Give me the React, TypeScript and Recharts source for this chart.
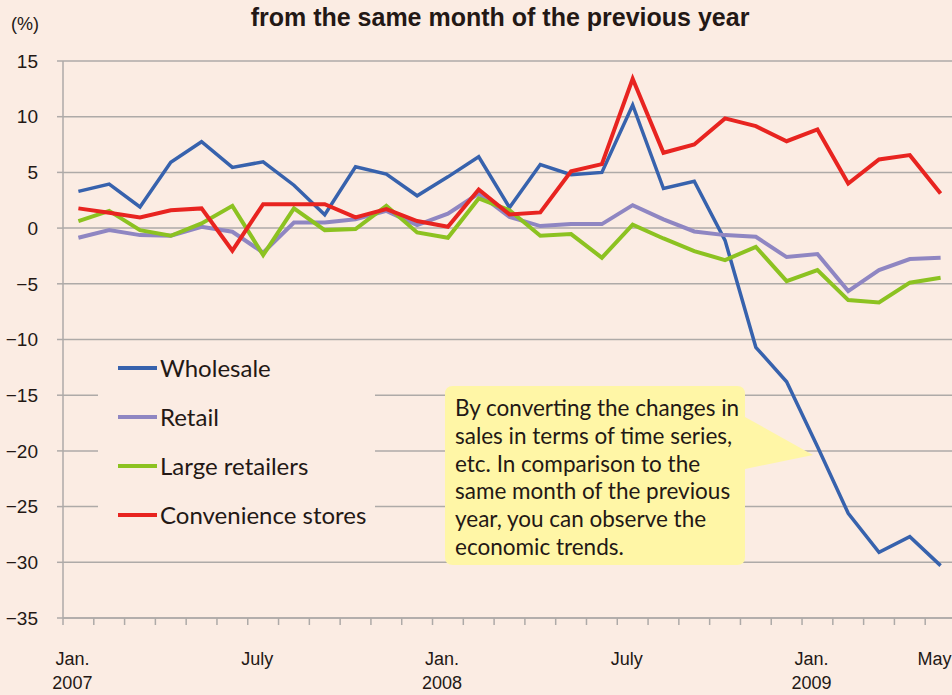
import { LineChart, Line, XAxis, YAxis, CartesianGrid, Legend } from 'recharts';

const months = [
  'Jan. 2007', 'Feb.', 'Mar.', 'Apr.', 'May', 'June', 'July', 'Aug.', 'Sep.', 'Oct.', 'Nov.', 'Dec.',
  'Jan. 2008', 'Feb.', 'Mar.', 'Apr.', 'May', 'June', 'July', 'Aug.', 'Sep.', 'Oct.', 'Nov.', 'Dec.',
  'Jan. 2009', 'Feb.', 'Mar.', 'Apr.', 'May',
];

const wholesale = [
  3.3, 3.95, 1.9, 5.9, 7.75, 5.45, 5.95, 3.85, 1.2, 5.5, 4.85, 2.9,
  4.6, 6.4, 1.85, 5.7, 4.8, 5.0, 11.05, 3.55, 4.2, -1.1, -10.7, -13.8,
  -19.6, -25.6, -29.1, -27.7, -30.3,
];
const retail = [
  -0.87, -0.18, -0.63, -0.69, 0.12, -0.33, -2.2, 0.5, 0.5, 0.8, 1.55, 0.27,
  1.3, 3.1, 1.0, 0.18, 0.36, 0.36, 2.06, 0.78, -0.3, -0.63, -0.78, -2.6,
  -2.33, -5.65, -3.77, -2.78, -2.66,
];
const largeRetailers = [
  0.63, 1.55, -0.18, -0.69, 0.42, 2.0, -2.42, 1.77, -0.18, -0.09, 2.0, -0.39,
  -0.87, 2.66, 1.6, -0.69, -0.54, -2.66, 0.3, -0.93, -2.07, -2.87, -1.68, -4.76,
  -3.77, -6.46, -6.67, -4.9, -4.46,
];
const convenience = [
  1.77, 1.37, 0.96, 1.6, 1.77, -2.03, 2.15, 2.15, 2.15, 0.96, 1.7, 0.63,
  0.12, 3.47, 1.23, 1.41, 5.1, 5.74, 13.4, 6.76, 7.5, 9.85, 9.15, 7.8,
  8.86, 4.0, 6.16, 6.55, 3.1,
];

const tickLabels: Record<number, string[]> = {
  0: ['Jan.', '2007'],
  6: ['July'],
  12: ['Jan.', '2008'],
  18: ['July'],
  24: ['Jan.', '2009'],
  28: ['May'],
};

const yTicks = [15, 10, 5, 0, -5, -10, -15, -20, -25, -30, -35];

const series = [
  { key: 'wholesale', name: 'Wholesale', color: '#3762ad', width: 3.5 },
  { key: 'retail', name: 'Retail', color: '#8f86c2', width: 4 },
  { key: 'largeRetailers', name: 'Large retailers', color: '#8cc221', width: 4 },
  { key: 'convenience', name: 'Convenience stores', color: '#e82420', width: 4 },
];

const calloutLines = [
  'By converting the changes in',
  'sales in terms of time series,',
  'etc. In comparison to the',
  'same month of the previous',
  'year, you can observe the',
  'economic trends.',
];

const data = months.map((m, i) => ({
  idx: i,
  month: m,
  wholesale: wholesale[i],
  retail: retail[i],
  largeRetailers: largeRetailers[i],
  convenience: convenience[i],
}));

const BG = '#fbece3';
const GRID = '#aeaaa8';
const CHART_W = 960;
const CHART_H = 695;
const MARGIN = { top: 61, right: 4, bottom: 0, left: 0 };
const Y_W = 63;
const X_H = 77;
const BAND = (CHART_W - MARGIN.left - MARGIN.right - Y_W) / months.length;
const AXIS_FONT = '"Liberation Sans", Arial, sans-serif';
const TEXT_FONT = 'Lato, "Noto Sans", sans-serif';

function MonthTick(props: any) {
  const { x, y, payload, index } = props;
  const lines = tickLabels[payload.value];
  return (
    <g>
      <line x1={x - BAND / 2} x2={x - BAND / 2} y1={y} y2={y + 7} stroke={GRID} strokeWidth={1.5} />
      {index === months.length - 1 && (
        <line x1={x + BAND / 2} x2={x + BAND / 2} y1={y} y2={y + 7} stroke={GRID} strokeWidth={1.5} />
      )}
      {lines &&
        lines.map((t, i) => (
          <text
            key={t}
            x={x - 6}
            y={y + 47 + i * 24}
            textAnchor="middle"
            fontSize={18}
            fontFamily={AXIS_FONT}
            fill="#231815"
          >
            {t}
          </text>
        ))}
    </g>
  );
}

function LegendBox() {
  return (
    <svg width={277} height={195} style={{ display: 'block', background: BG }}>
      {series.map((s, i) => (
        <g key={s.key}>
          <line x1={20} x2={59} y1={23 + i * 49} y2={23 + i * 49} stroke={s.color} strokeWidth={4} />
          <text x={62} y={32 + i * 49} fontSize={24} fontFamily={TEXT_FONT} fill="#231815">
            {s.name}
          </text>
        </g>
      ))}
    </svg>
  );
}

export default function App() {
  return (
    <div
      style={{
        position: 'absolute',
        left: 0,
        top: 0,
        width: 952,
        height: 695,
        overflow: 'hidden',
        background: BG,
      }}
    >
      <LineChart width={CHART_W} height={CHART_H} data={data} margin={MARGIN}>
        <CartesianGrid vertical={false} stroke={GRID} strokeWidth={1.5} />
        <XAxis
          dataKey="idx"
          type="number"
          domain={[-0.5, months.length - 0.5]}
          ticks={months.map((_, i) => i)}
          interval={0}
          height={X_H}
          tickLine={false}
          tickSize={0}
          tickMargin={0}
          axisLine={{ stroke: GRID, strokeWidth: 1.5 }}
          tick={<MonthTick />}
        />
        <YAxis
          domain={[-35, 15]}
          ticks={yTicks}
          interval={0}
          width={Y_W}
          tickSize={6}
          tickMargin={19}
          axisLine={{ stroke: GRID, strokeWidth: 1.5 }}
          tickLine={{ stroke: GRID, strokeWidth: 1.5 }}
          tick={{ fontSize: 19, fill: '#231815', fontFamily: AXIS_FONT }}
          tickFormatter={(v: number) => (v < 0 ? `\u2212${Math.abs(v)}` : `${v}`)}
        />
        <Legend
          layout="vertical"
          align="center"
          verticalAlign="middle"
          wrapperStyle={{ left: 98, top: 345, width: 277, height: 195 }}
          content={<LegendBox />}
        />
        {series.map((s) => (
          <Line
            key={s.key}
            type="linear"
            dataKey={s.key}
            name={s.name}
            stroke={s.color}
            strokeWidth={s.width}
            dot={false}
            activeDot={false}
            isAnimationActive={false}
          />
        ))}
      </LineChart>
      <svg
        width={952}
        height={695}
        style={{ position: 'absolute', left: 0, top: 0, pointerEvents: 'none' }}
      >
        <text
          x={500}
          y={26}
          textAnchor="middle"
          fontSize={25}
          fontWeight="bold"
          fontFamily={AXIS_FONT}
          fill="#231815"
        >
          from the same month of the previous year
        </text>
        <text x={11} y={30} fontSize={18} fontFamily={AXIS_FONT} fill="#231815">
          (%)
        </text>
        <path
          d="M 455 386 H 737 Q 745 386 745 394 V 417 L 813 455 L 745 469 V 557 Q 745 565 737 565 H 453 Q 445 565 445 557 V 394 Q 445 386 453 386 Z"
          fill="#fff6a6"
        />
        {calloutLines.map((t, i) => (
          <text
            key={t}
            x={455}
            y={416 + i * 27.8}
            fontSize={22.5}
            fontFamily={TEXT_FONT}
            fill="#231815"
          >
            {t}
          </text>
        ))}
      </svg>
    </div>
  );
}
